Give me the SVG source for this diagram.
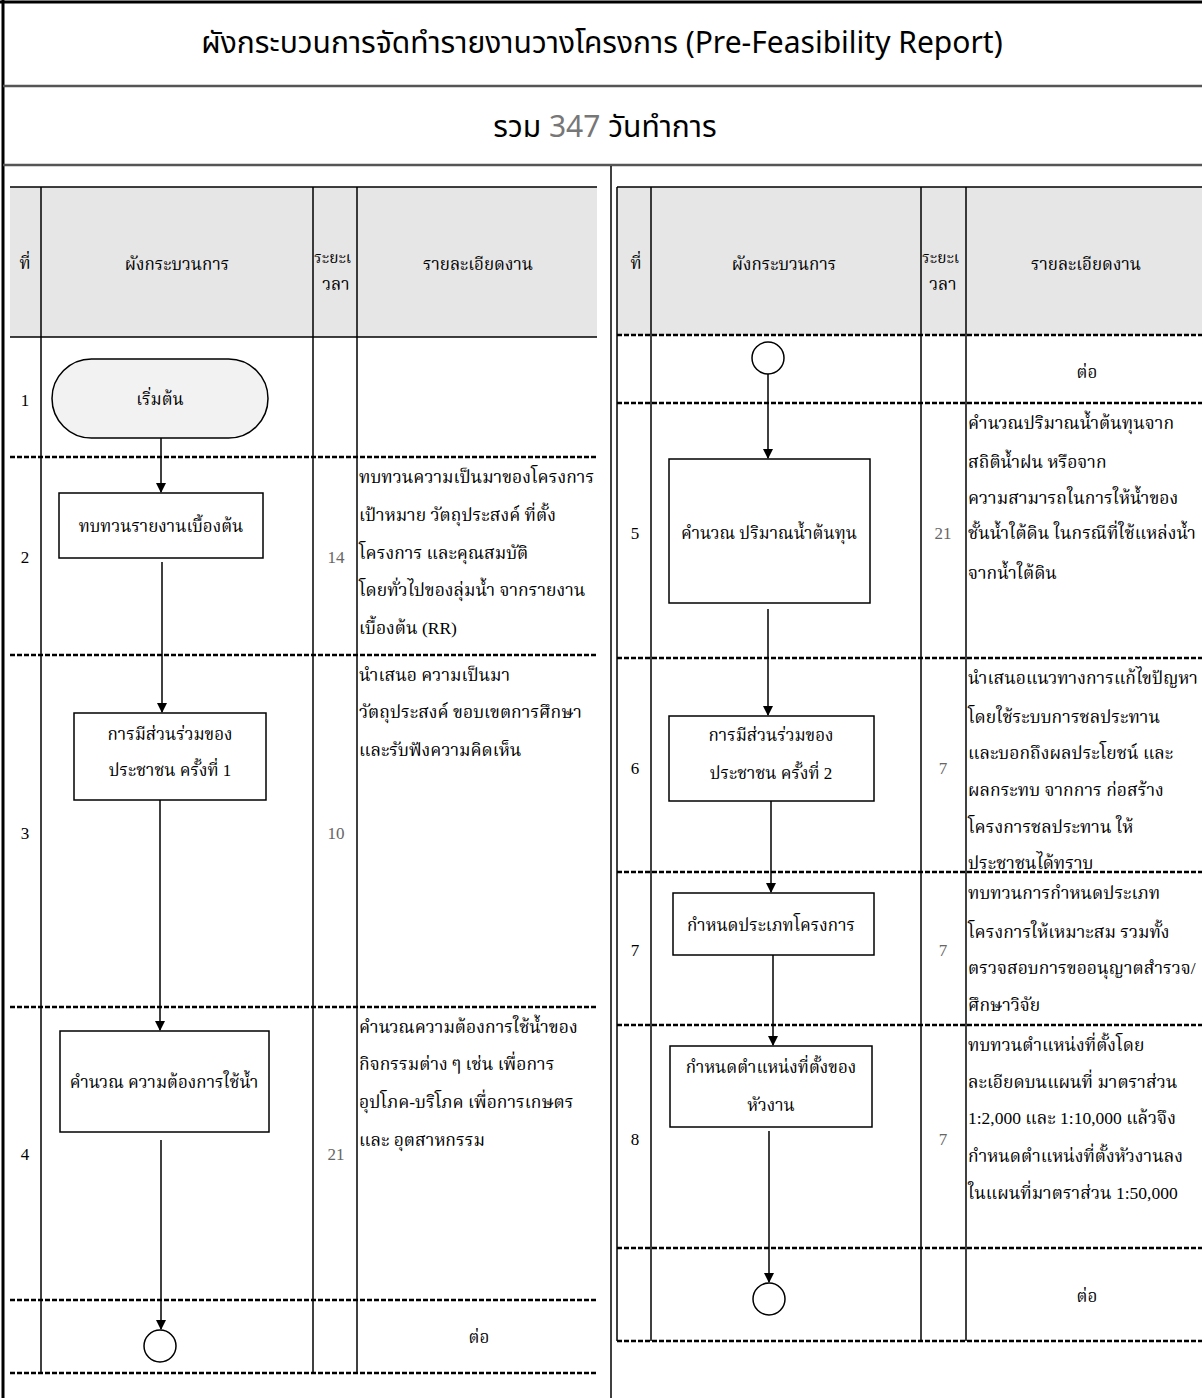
<svg xmlns="http://www.w3.org/2000/svg" width="1202" height="1398" viewBox="0 0 1202 1398">
<style>
text{font-family:'Liberation Serif','Noto Serif Thai','Noto Sans Thai','Noto Sans',serif;fill:#000;dominant-baseline:central}
.title{font-family:'Noto Sans Thai','Noto Sans','Liberation Sans',sans-serif;font-size:30px}
.b{font-size:17.5px}
.c{font-size:17px;text-anchor:middle}
.g{font-size:17px;text-anchor:middle;fill:#666}
.h{font-size:17px;text-anchor:middle}
.hs{font-size:15.5px}
.box{fill:#fff;stroke:#000;stroke-width:1.5}
.term{fill:#f2f2f2;stroke:#000;stroke-width:1.5}
.circ{fill:#fff;stroke:#000;stroke-width:1.5}
.sol{stroke:#000;stroke-width:1.5;fill:none}
.dash{stroke:#000;stroke-width:2.5;stroke-dasharray:5 2;fill:none}
.conn{stroke:#000;stroke-width:1.5;fill:none;marker-end:url(#arr)}
.hdrbg{fill:#e6e6e6}
</style>
<defs>
<marker id="arr" markerUnits="userSpaceOnUse" markerWidth="10" markerHeight="12" refX="9" refY="5" orient="auto" viewBox="0 0 10 10">
<path d="M0,0 L10,5 L0,10 z" fill="#000"/>
</marker>
</defs>
<rect x="0" y="0" width="1202" height="1398" fill="#fff"/>

<g id="frame">
<line x1="0" y1="2" x2="1202" y2="2" stroke="#000" stroke-width="3"/>
<line x1="3" y1="0" x2="3" y2="1398" stroke="#000" stroke-width="3"/>
<line x1="3" y1="86" x2="1202" y2="86" stroke="#555" stroke-width="2.5"/>
<line x1="3" y1="165" x2="1202" y2="165" stroke="#555" stroke-width="2.5"/>
<line x1="611" y1="166" x2="611" y2="1398" stroke="#000" stroke-width="1.5"/>
</g>

<g id="title">
<text class="title" x="602" y="44" text-anchor="middle">ผังกระบวนการจัดทำรายงานวางโครงการ (Pre-Feasibility Report)</text>
<text class="title" x="605" y="128" text-anchor="middle">รวม <tspan fill="#777">347</tspan> วันทำการ</text>
</g>

<g id="left-table">
<rect class="hdrbg" x="10" y="187" width="587" height="150"/>
<line class="sol" x1="10" y1="187" x2="597" y2="187"/>
<line class="sol" x1="10" y1="337" x2="597" y2="337"/>
<line class="sol" x1="41" y1="187" x2="41" y2="1373"/>
<line class="sol" x1="313" y1="187" x2="313" y2="1373"/>
<line class="sol" x1="357" y1="187" x2="357" y2="1373"/>
<line class="dash" x1="10" y1="457" x2="597" y2="457"/>
<line class="dash" x1="10" y1="655" x2="597" y2="655"/>
<line class="dash" x1="10" y1="1007" x2="597" y2="1007"/>
<line class="dash" x1="10" y1="1300" x2="597" y2="1300"/>
<line class="dash" x1="10" y1="1373" x2="597" y2="1373"/>
<text class="h" x="25" y="263">ที่</text>
<text class="h" x="177" y="264">ผังกระบวนการ</text>
<text class="hs" x="314" y="257">ระยะเ</text>
<text class="h" x="336" y="284">วลา</text>
<text class="h" x="478" y="264">รายละเอียดงาน</text>
<text class="c" x="25" y="400">1</text>
<text class="c" x="25" y="557">2</text>
<text class="c" x="25" y="833">3</text>
<text class="c" x="25" y="1154">4</text>
<text class="g" x="336" y="557">14</text>
<text class="g" x="336" y="833">10</text>
<text class="g" x="336" y="1154">21</text>
<text class="b" x="359" y="477">ทบทวนความเป็นมาของโครงการ</text>
<text class="b" x="359" y="515"> เป้าหมาย วัตถุประสงค์  ที่ตั้ง</text>
<text class="b" x="359" y="553">โครงการ และคุณสมบัติ</text>
<text class="b" x="359" y="590">โดยทั่วไปของลุ่มน้ำ จากรายงาน</text>
<text class="b" x="359" y="628">เบื้องต้น (RR)</text>
<text class="b" x="359" y="675">นำเสนอ ความเป็นมา</text>
<text class="b" x="359" y="712">วัตถุประสงค์ ขอบเขตการศึกษา</text>
<text class="b" x="359" y="750">และรับฟังความคิดเห็น</text>
<text class="b" x="359" y="1027">คำนวณความต้องการใช้น้ำของ</text>
<text class="b" x="359" y="1064">กิจกรรมต่าง ๆ เช่น เพื่อการ</text>
<text class="b" x="359" y="1102">อุปโภค-บริโภค เพื่อการเกษตร</text>
<text class="b" x="359" y="1140">และ อุตสาหกรรม</text>
<text class="c" x="479" y="1337">ต่อ</text>
</g>

<g id="right-table">
<rect class="hdrbg" x="617" y="187" width="585" height="148"/>
<line class="sol" x1="617" y1="187" x2="1202" y2="187"/>
<line class="sol" x1="617" y1="187" x2="617" y2="1341"/>
<line class="sol" x1="651" y1="187" x2="651" y2="1341"/>
<line class="sol" x1="921" y1="187" x2="921" y2="1341"/>
<line class="sol" x1="966" y1="187" x2="966" y2="1341"/>
<line class="dash" x1="617" y1="335" x2="1202" y2="335"/>
<line class="dash" x1="617" y1="403" x2="1202" y2="403"/>
<line class="dash" x1="617" y1="658" x2="1202" y2="658"/>
<line class="dash" x1="617" y1="872" x2="1202" y2="872"/>
<line class="dash" x1="617" y1="1025" x2="1202" y2="1025"/>
<line class="dash" x1="617" y1="1248" x2="1202" y2="1248"/>
<line class="dash" x1="617" y1="1341" x2="1202" y2="1341"/>
<text class="h" x="636" y="263">ที่</text>
<text class="h" x="784" y="264">ผังกระบวนการ</text>
<text class="hs" x="922" y="257">ระยะเ</text>
<text class="h" x="943" y="284">วลา</text>
<text class="h" x="1086" y="264">รายละเอียดงาน</text>
<text class="c" x="1087" y="372">ต่อ</text>
<text class="c" x="635" y="533">5</text>
<text class="c" x="635" y="768">6</text>
<text class="c" x="635" y="950">7</text>
<text class="c" x="635" y="1139">8</text>
<text class="g" x="943" y="533">21</text>
<text class="g" x="943" y="768">7</text>
<text class="g" x="943" y="950">7</text>
<text class="g" x="943" y="1139">7</text>
<text class="b" x="968" y="423">คำนวณปริมาณน้ำต้นทุนจาก</text>
<text class="b" x="968" y="462">สถิติน้ำฝน หรือจาก</text>
<text class="b" x="968" y="498">ความสามารถในการให้น้ำของ</text>
<text class="b" x="968" y="533">ชั้นน้ำใต้ดิน ในกรณีที่ใช้แหล่งน้ำ</text>
<text class="b" x="968" y="573">จากน้ำใต้ดิน</text>
<text class="b" x="968" y="678">นำเสนอแนวทางการแก้ไขปัญหา</text>
<text class="b" x="968" y="717">โดยใช้ระบบการชลประทาน</text>
<text class="b" x="968" y="753">และบอกถึงผลประโยชน์ และ</text>
<text class="b" x="968" y="790">ผลกระทบ จากการ ก่อสร้าง</text>
<text class="b" x="968" y="827">โครงการชลประทาน ให้</text>
<text class="b" x="968" y="863">ประชาชนได้ทราบ</text>
<text class="b" x="968" y="893">ทบทวนการกำหนดประเภท</text>
<text class="b" x="968" y="932">โครงการให้เหมาะสม รวมทั้ง</text>
<text class="b" x="968" y="968">ตรวจสอบการขออนุญาตสำรวจ/</text>
<text class="b" x="968" y="1005">ศึกษาวิจัย</text>
<text class="b" x="968" y="1045">ทบทวนตำแหน่งที่ตั้งโดย</text>
<text class="b" x="968" y="1082">ละเอียดบนแผนที่ มาตราส่วน</text>
<text class="b" x="968" y="1118">1:2,000 และ 1:10,000 แล้วจึง</text>
<text class="b" x="968" y="1156">กำหนดตำแหน่งที่ตั้งหัวงานลง</text>
<text class="b" x="968" y="1193">ในแผนที่มาตราส่วน 1:50,000</text>
<text class="c" x="1087" y="1296">ต่อ</text>
</g>

<g id="connectors">
<line class="conn" x1="161" y1="438" x2="161" y2="492"/>
<line class="conn" x1="162" y1="562" x2="162" y2="712"/>
<line class="conn" x1="160" y1="800" x2="160" y2="1030"/>
<line class="conn" x1="161" y1="1140" x2="161" y2="1329"/>
<line class="conn" x1="768" y1="374" x2="768" y2="458"/>
<line class="conn" x1="768" y1="609" x2="768" y2="715"/>
<line class="conn" x1="771" y1="801" x2="771" y2="892"/>
<line class="conn" x1="773" y1="955" x2="773" y2="1045"/>
<line class="conn" x1="769" y1="1131" x2="769" y2="1282"/>
</g>

<g id="n1"><rect class="term" x="52" y="359" width="216" height="79" rx="39.5"/><text class="c" x="160" y="399">เริ่มต้น</text></g>
<g id="n2"><rect class="box" x="59" y="493" width="204" height="65"/><text class="c" x="161" y="526">ทบทวนรายงานเบื้องต้น</text></g>
<g id="n3"><rect class="box" x="74" y="713" width="192" height="87"/><text class="c" x="170" y="734">การมีส่วนร่วมของ</text><text class="c" x="170" y="770">ประชาชน ครั้งที่ 1</text></g>
<g id="n4"><rect class="box" x="60" y="1031" width="209" height="101"/><text class="c" x="164" y="1082">คำนวณ ความต้องการใช้น้ำ</text></g>
<g id="n4c"><circle class="circ" cx="160" cy="1346" r="16"/></g>
<g id="n5c"><circle class="circ" cx="768" cy="358" r="16"/></g>
<g id="n5"><rect class="box" x="669" y="459" width="201" height="144"/><text class="c" x="769" y="533">คำนวณ ปริมาณน้ำต้นทุน</text></g>
<g id="n6"><rect class="box" x="669" y="716" width="205" height="85"/><text class="c" x="771" y="735">การมีส่วนร่วมของ</text><text class="c" x="771" y="773">ประชาชน ครั้งที่ 2</text></g>
<g id="n7"><rect class="box" x="673" y="893" width="201" height="62"/><text class="c" x="771" y="925">กำหนดประเภทโครงการ</text></g>
<g id="n8"><rect class="box" x="670" y="1046" width="202" height="81"/><text class="c" x="771" y="1067">กำหนดตำแหน่งที่ตั้งของ</text><text class="c" x="771" y="1105">หัวงาน</text></g>
<g id="n8c"><circle class="circ" cx="769" cy="1299" r="16"/></g>
</svg>
